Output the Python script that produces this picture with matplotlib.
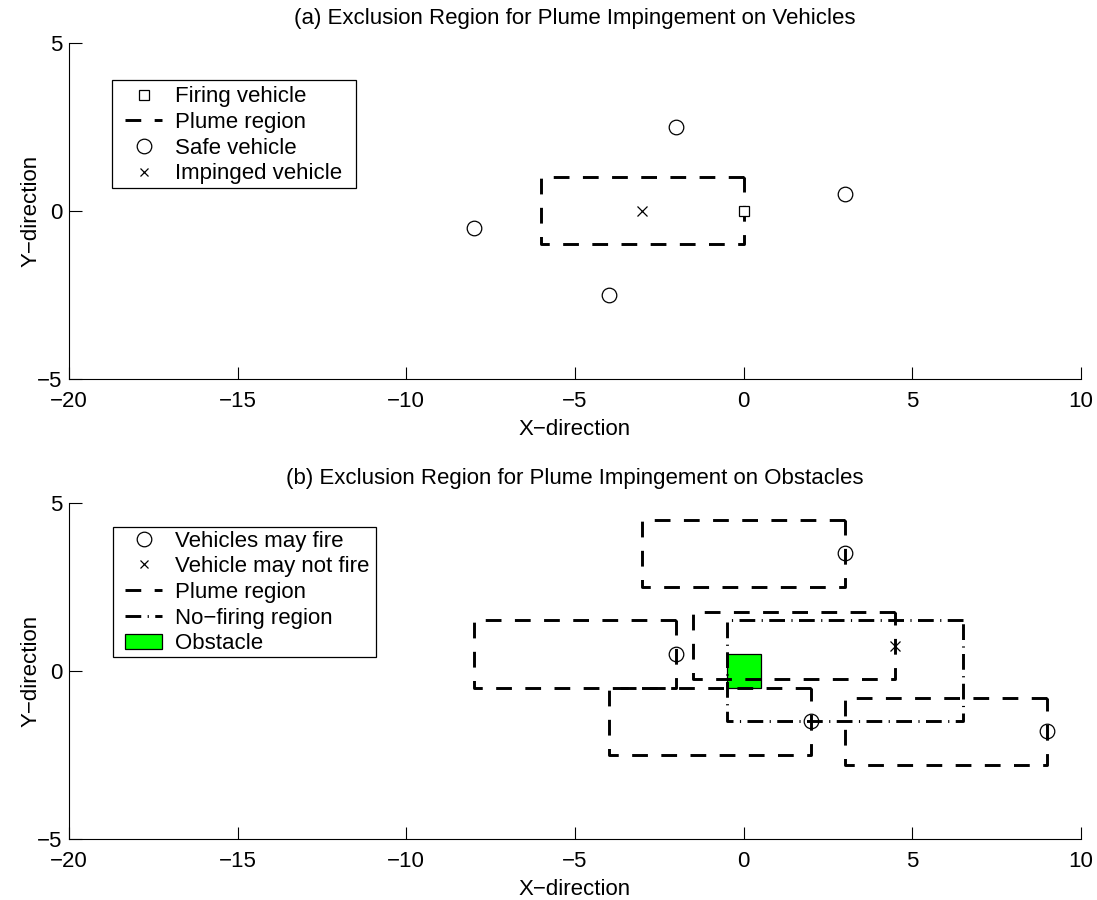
import matplotlib
matplotlib.use('Agg')
import matplotlib.pyplot as plt
from matplotlib.lines import Line2D
from matplotlib.patches import Patch, Rectangle

plt.rcParams['font.family'] = ['Liberation Sans', 'DejaVu Sans']
plt.rcParams['font.size'] = 16

# (a) vehicles
firing_x = [0]
firing_y = [0]
safe_x = [-2, 3, -8, -4]
safe_y = [2.5, 0.5, -0.5, -2.5]
impinged_x = [-3]
impinged_y = [0]
plume_a_x0 = [-6]
plume_a_y0 = [-1]

# (b) obstacles
may_fire_x = [3, -2, 2, 9]
may_fire_y = [3.5, 0.5, -1.5, -1.8]
no_fire_x = [4.5]
no_fire_y = [0.75]
plume_b_x0 = [-3, -8, -4, 3, -1.5]
plume_b_y0 = [2.5, -0.5, -2.5, -2.8, -0.25]
plume_len = 6
plume_wid = 2
nofire_x0 = [-0.5]
nofire_y0 = [-1.5]
nofire_len = 7
nofire_wid = 3
obst_x0 = -0.5
obst_y0 = -0.5
obst_size = 1

dash = (0, (5.4, 4.6))
dashdot = (0, (5.4, 2.2, 0.4, 2.2))
lw = 2.1
green = '#00ff00'


def rect_line(ax, x0, y0, w, h, ls):
    xs = [x0 + w, x0, x0, x0 + w, x0 + w]
    ys = [y0 + h, y0 + h, y0, y0, y0 + h]
    ax.plot(xs, ys, color='k', linestyle=ls, linewidth=lw)


def style_axes(ax, title):
    ax.set_xlim(-20, 10)
    ax.set_ylim(-5, 5)
    ax.set_xticks([-20, -15, -10, -5, 0, 5, 10])
    ax.set_yticks([-5, 0, 5])
    ax.set_xticklabels(['\u221220', '\u221215', '\u221210', '\u22125', '0', '5', '10'])
    ax.set_yticklabels(['\u22125', '0', '5'])
    ax.spines['top'].set_visible(False)
    ax.spines['right'].set_visible(False)
    ax.tick_params(direction='in', length=9, width=0.8)
    ax.tick_params(axis='x', pad=9)
    ax.tick_params(axis='y', pad=4.5)
    ax.set_xlabel('X\u2212direction', labelpad=5)
    ax.set_ylabel('Y\u2212direction', labelpad=-3)
    ax.set_title(title, fontsize=16, pad=13.5)


def marker_handle(m, ms):
    fc = 'white' if m == 's' else 'none'
    return Line2D([], [], ls='none', marker=m, ms=ms, mfc=fc, mec='k', mew=0.9)


def boxed_legend(ax, handles, labels, anchor, frame):
    leg = ax.legend(handles, labels, loc='upper left', bbox_to_anchor=anchor,
                    frameon=False, borderpad=0, labelspacing=0.21,
                    handlelength=1.67, handletextpad=0.6, borderaxespad=0)
    leg.set_zorder(6)
    x0, y0, x1, y1 = frame
    ax.add_patch(Rectangle((x0, y0), x1 - x0, y1 - y0, transform=ax.transAxes,
                           facecolor='white', edgecolor='k', linewidth=0.9,
                           zorder=5, clip_on=False))
    return leg


fig = plt.figure(figsize=(10.97, 9.0), dpi=100)
ax1 = fig.add_axes([0.0629, 0.5793, 0.9225, 0.3729])
ax2 = fig.add_axes([0.0629, 0.0682, 0.9225, 0.3729])

# top panel
for x0, y0 in zip(plume_a_x0, plume_a_y0):
    rect_line(ax1, x0, y0, plume_len, plume_wid, dash)
ax1.plot(firing_x, firing_y, 's', ms=7.5, mfc='white', mec='k', mew=0.9)
ax1.plot(safe_x, safe_y, 'o', ms=10.5, mfc='none', mec='k', mew=0.9)
ax1.plot(impinged_x, impinged_y, 'x', ms=7, mec='k', mew=0.9)
style_axes(ax1, '(a) Exclusion Region for Plume Impingement on Vehicles')

h1 = [marker_handle('s', 7.5),
      Line2D([], [], color='k', ls=dash, lw=lw),
      marker_handle('o', 10.5),
      marker_handle('x', 6)]
boxed_legend(ax1, h1, ['Firing vehicle', 'Plume region', 'Safe vehicle', 'Impinged vehicle'],
             (0.0553, 0.871), (0.0425, 0.567, 0.2836, 0.8897))

# bottom panel
ax2.add_patch(Rectangle((obst_x0, obst_y0), obst_size, obst_size,
                        facecolor=green, edgecolor='k', linewidth=0.9))
for x0, y0 in zip(plume_b_x0, plume_b_y0):
    rect_line(ax2, x0, y0, plume_len, plume_wid, dash)
for x0, y0 in zip(nofire_x0, nofire_y0):
    rect_line(ax2, x0, y0, nofire_len, nofire_wid, dashdot)
ax2.plot(may_fire_x, may_fire_y, 'o', ms=10.5, mfc='none', mec='k', mew=0.9)
ax2.plot(no_fire_x, no_fire_y, 'x', ms=7, mec='k', mew=0.9)
style_axes(ax2, '(b) Exclusion Region for Plume Impingement on Obstacles')

h2 = [marker_handle('o', 10.5),
      marker_handle('x', 6),
      Line2D([], [], color='k', ls=dash, lw=lw),
      Line2D([], [], color='k', ls=dashdot, lw=lw),
      Patch(facecolor=green, edgecolor='k', linewidth=0.9)]
boxed_legend(ax2, h2, ['Vehicles may fire', 'Vehicle may not fire', 'Plume region',
                       'No\u2212firing region', 'Obstacle'],
             (0.0553, 0.9178), (0.0435, 0.541, 0.3034, 0.9285))

fig.savefig('out.png', dpi=100)
